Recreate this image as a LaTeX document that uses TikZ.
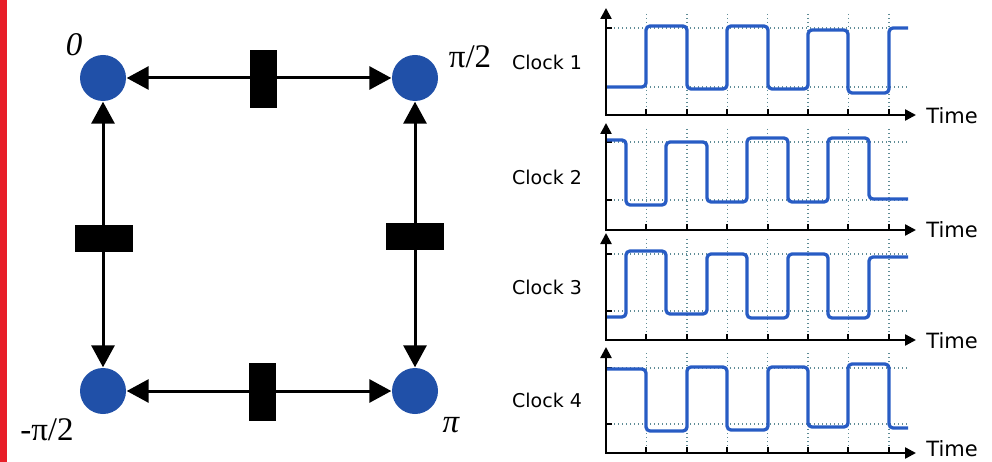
\documentclass[tikz,border=0pt]{standalone}
\usepackage{fontspec}
\setmainfont{Liberation Serif}
\newfontfamily\clockfont{DejaVu Sans}
\usetikzlibrary{arrows.meta}
\definecolor{phaseblue}{RGB}{32,80,168}
\definecolor{wave}{RGB}{40,92,196}
\definecolor{gridc}{RGB}{95,140,150}
\definecolor{redbar}{RGB}{232,30,40}
\tikzset{
  phase/.style={circle,fill=phaseblue,minimum size=46pt,inner sep=0pt},
  hblock/.style={fill=black,minimum width=27pt,minimum height=58pt,inner sep=0pt},
  vblock/.style={fill=black,minimum width=58pt,minimum height=27pt,inner sep=0pt},
  biarrow/.style={line width=3pt,{Triangle[length=22pt,width=23pt]}-{Triangle[length=22pt,width=23pt]},shorten <=0.5pt,shorten >=0.5pt},
  plab/.style={font=\fontsize{33}{35}\selectfont,inner sep=0pt},
  clab/.style={font=\clockfont\fontsize{19}{21}\selectfont,inner sep=0pt},
  tlab/.style={font=\clockfont\fontsize{21}{23}\selectfont,inner sep=0pt},
  axisline/.style={line width=2.4pt,{Triangle[length=11pt,width=11pt]}-{Triangle[length=11pt,width=11pt]}},
  gridline/.style={gridc,line width=1.4pt,dash pattern=on 1.4pt off 2.6pt},
  tickline/.style={line width=2pt},
  wavec/.style={wave,line width=3.3pt,rounded corners=4pt,line join=round}
}
\begin{document}
\begin{tikzpicture}[x=1pt,y=-1pt]
\useasboundingbox (0,0) rectangle (992,462);
\fill[redbar] (0,0) rectangle (7,462);
% phase nodes
\node[phase] (n0) at (103,78) {};
\node[phase] (n1) at (415,78) {};
\node[phase] (n3) at (103,391) {};
\node[phase] (n2) at (415,391) {};
\node[plab,font=\itshape\fontsize{33}{35}\selectfont] (l0) at (74,45) {0};
\node[plab] (l1) at (470,57) {π/2};
\node[plab] (l3) at (47,430) {-π/2};
\node[plab,font=\itshape\fontsize{33}{35}\selectfont] (l2) at (451,425) {π};
% connectors
\draw[biarrow] (n0) -- (n1);
\draw[biarrow] (n0) -- (n3);
\draw[biarrow] (n1) -- (n2);
\draw[biarrow] (n3) -- (n2);
% blocks
\node[hblock] (bt) at (263.5,79) {};
\node[vblock] (bl) at (104,238.5) {};
\node[vblock] (br) at (415,236.5) {};
\node[hblock] (bb) at (262,391.5) {};
% clock plots
\foreach \b/\h/\l/\t/\name/\ty in {115/28/87/8/Clock 1/116, 230/142/200/123/Clock 2/230, 340/254/311/233/Clock 3/341, 453/368/424/347/Clock 4/449}{
  \draw[gridline] (606,\h) -- (908,\h);
  \draw[gridline] (606,\l) -- (908,\l);
  \foreach \k in {1,...,7}{
    \draw[gridline] (606+40.4*\k,\t+6) -- (606+40.4*\k,\b);
    \draw[tickline] (606+40.4*\k,\b) -- (606+40.4*\k,\b-6);
  }
  \draw[tickline] (606,\h) -- (612,\h);
  \draw[tickline] (606,\l) -- (612,\l);
  \draw[axisline] (606,\t) -- (606,\b) -- (916,\b);
  \node[clab] at (547,\b-53) {\name};
  \node[tlab] at (952,\ty) {Time};
}
\draw[wavec] (607,87) -- (646,87) -- (646,26) -- (687,26) -- (687,89) -- (727,89) -- (727,26) -- (768,26) -- (768,89) -- (808,89) -- (808,30) -- (848,30) -- (848,93) -- (889,93) -- (889,28) -- (908,28);
\draw[wavec] (607,140) -- (626,140) -- (626,205) -- (666,205) -- (666,142) -- (707,142) -- (707,202) -- (747,202) -- (747,138) -- (788,138) -- (788,202) -- (828,202) -- (828,138) -- (869,138) -- (869,199) -- (908,199);
\draw[wavec] (607,317) -- (626,317) -- (626,251) -- (666,251) -- (666,314) -- (707,314) -- (707,254) -- (747,254) -- (747,318) -- (788,318) -- (788,254) -- (828,254) -- (828,318) -- (869,318) -- (869,257) -- (908,257);
\draw[wavec] (607,369) -- (646,369) -- (646,431) -- (687,431) -- (687,367) -- (727,367) -- (727,430) -- (768,430) -- (768,367) -- (808,367) -- (808,427) -- (848,427) -- (848,364) -- (889,364) -- (889,428) -- (908,428);
\end{tikzpicture}
\end{document}
